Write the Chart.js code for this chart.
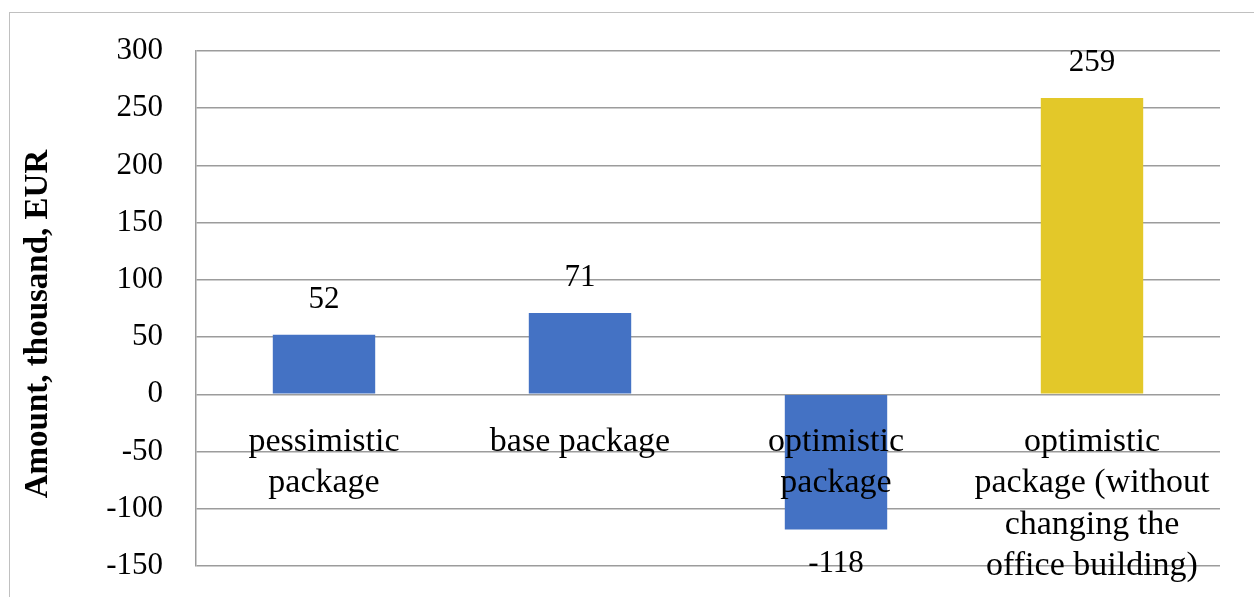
<!DOCTYPE html>
<html>
<head>
<meta charset="utf-8">
<script src="https://cdn.jsdelivr.net/npm/chart.js@4/dist/chart.umd.min.js"></script>
<style>
  html, body { margin: 0; padding: 0; background: #fff; overflow: hidden; }
  #wrap { position: relative; width: 1254px; height: 597px; }
  #frame { position: absolute; left: 9px; top: 12px; width: 2000px; height: 2000px;
           border: 1.5px solid #c0c0c0; box-sizing: border-box; }
  #chart { position: absolute; left: 0; top: 0; }
</style>
</head>
<body>
<div id="wrap">
  <div id="frame"></div>
  <canvas id="chart" width="1254" height="597"></canvas>
</div>
<script>
// Scenario packages and their amounts (thousand EUR)
const categories = [
  ['pessimistic', 'package'],
  ['base package'],
  ['optimistic', 'package'],
  ['optimistic', 'package (without', 'changing the', 'office building)']
];
const amounts = [52, 71, -118, 259];
const barColors = ['#4472C4', '#4472C4', '#4472C4', '#E3C829'];
const yTicks = { min: -150, max: 300, step: 50 };
const axisTitle = 'Amount, thousand, EUR';

const SERIF = '"Liberation Serif", "Times New Roman", serif';

// Writes each bar's value above (or below, for negatives) the bar
const valueLabels = {
  id: 'valueLabels',
  afterDatasetsDraw(chart) {
    const { ctx } = chart;
    const meta = chart.getDatasetMeta(0);
    ctx.save();
    ctx.font = '31px ' + SERIF;
    ctx.fillStyle = '#000';
    ctx.textAlign = 'center';
    ctx.textBaseline = 'middle';
    meta.data.forEach((bar, i) => {
      const v = amounts[i];
      const y = v >= 0 ? bar.y - 35 : bar.y + 34;
      ctx.fillText(String(v), bar.x, y);
    });
    ctx.restore();
  }
};

// Vertical axis title
const yAxisTitle = {
  id: 'yAxisTitle',
  afterDraw(chart) {
    const { ctx } = chart;
    ctx.save();
    ctx.translate(38, 324);
    ctx.rotate(-Math.PI / 2);
    ctx.font = 'bold 33px ' + SERIF;
    ctx.fillStyle = '#000';
    ctx.textAlign = 'center';
    ctx.textBaseline = 'middle';
    ctx.fillText(axisTitle, 0, 0);
    ctx.restore();
  }
};

new Chart(document.getElementById('chart'), {
  type: 'bar',
  data: {
    labels: categories,
    datasets: [{
      data: amounts,
      backgroundColor: barColors,
      borderWidth: 0,
      barPercentage: 0.8,
      categoryPercentage: 0.5
    }]
  },
  options: {
    responsive: false,
    animation: false,
    events: [],
    layout: { padding: { left: 0, top: 51, right: 34, bottom: 31 } },
    plugins: {
      legend: { display: false },
      tooltip: { enabled: false }
    },
    scales: {
      x: {
        position: { y: 0 },
        grid: { display: false, drawTicks: false },
        border: { display: false },
        ticks: {
          z: 1,
          color: '#000',
          font: { family: SERIF, size: 34, lineHeight: 1.22 },
          padding: 27,
          maxRotation: 0,
          autoSkip: false
        }
      },
      y: {
        min: yTicks.min,
        max: yTicks.max,
        afterFit(scale) {
          scale.width = 196;
          scale.paddingTop = 0;
          scale.paddingBottom = 0;
        },
        grid: { color: '#9c9c9c', lineWidth: 1.5, drawTicks: false },
        border: { display: true, color: '#9c9c9c', width: 1.5 },
        ticks: {
          stepSize: yTicks.step,
          color: '#000',
          font: { family: SERIF, size: 31 },
          padding: 33
        }
      }
    }
  },
  plugins: [valueLabels, yAxisTitle]
});
</script>
</body>
</html>
